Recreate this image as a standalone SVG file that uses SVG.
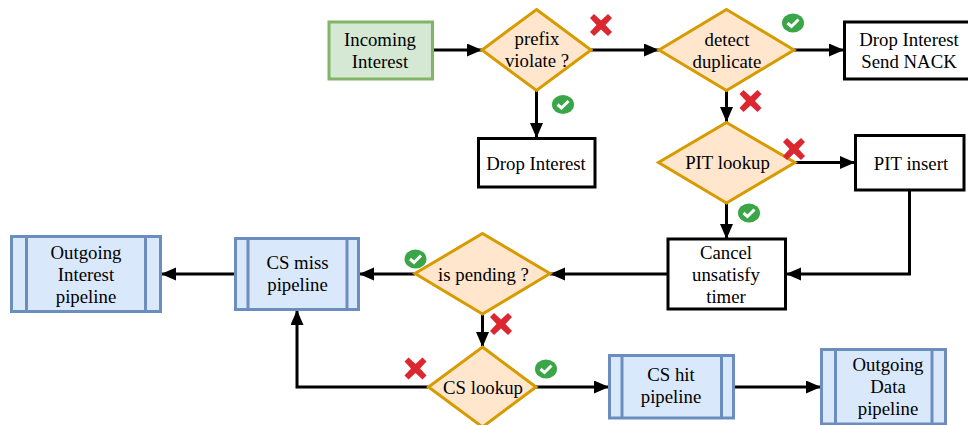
<svg xmlns="http://www.w3.org/2000/svg" width="968" height="425" viewBox="0 0 968 425">
<style>
text{font-family:"Liberation Serif","Times New Roman",serif;font-size:18.8px;fill:#000;text-anchor:middle}
.start{fill:#d5e8d4;stroke:#82b366;stroke-width:3}
.dec{fill:#ffe6cc;stroke:#d79b00;stroke-width:3}
.act{fill:#fff;stroke:#000;stroke-width:3}
.pipe{fill:#dae8fc;stroke:#6c8ebf;stroke-width:3}
.conn{fill:none;stroke:#000;stroke-width:3;marker-end:url(#arrow)}
.ok{fill:#3aa648}
.okm{fill:none;stroke:#fff;stroke-width:3}
.no{fill:#dc2630}
</style>
<defs>
<marker id="arrow" markerUnits="userSpaceOnUse" markerWidth="16" markerHeight="14" refX="15" refY="6.5" orient="auto"><path d="M0 0L15 6.500L0 13z" fill="#000"/></marker>
<g id="check"><ellipse class="ok" rx="11" ry="9.500"/><path class="okm" d="M-5.500 0L-1.500 3.500L5.500 -3.500"/></g>
<g id="cross"><path class="no" d="M-7 -11L0 -4.500L7 -11L11 -7L4.500 0L11 7L7 11L0 4.500L-7 11L-11 7L-4.500 0L-11 -7z"/></g>
</defs>
<rect width="968" height="425" fill="#fff"/>
<g id="connectors">
<path class="conn" d="M432 50H482"/>
<path class="conn" d="M591 50H659"/>
<path class="conn" d="M536.500 90V138"/>
<path class="conn" d="M794 50H844"/>
<path class="conn" d="M726.500 90V122"/>
<path class="conn" d="M795 162.500H855"/>
<path class="conn" d="M726.500 203V239"/>
<path class="conn" d="M909.500 190V274H786"/>
<path class="conn" d="M668 274H550"/>
<path class="conn" d="M415 274H359"/>
<path class="conn" d="M234 274H161"/>
<path class="conn" d="M482.500 314V347"/>
<path class="conn" d="M428 387H297V310"/>
<path class="conn" d="M536 387H609"/>
<path class="conn" d="M734 387H821"/>
</g>
<g id="incoming"><rect class="start" x="329" y="22" width="103.500" height="57"/><text x="380" y="46">Incoming</text><text x="380" y="68">Interest</text></g>
<g id="prefix"><path class="dec" d="M536.500 9.500L591 50L536.500 90.500L482 50z"/><text x="537" y="45">prefix</text><text x="537" y="67">violate ?</text></g>
<g id="drop"><rect class="act" x="478.500" y="138.500" width="116.500" height="48.500"/><text x="536" y="170">Drop Interest</text></g>
<g id="detect"><path class="dec" d="M726.500 9.500L794 50L726.500 90.500L659 50z"/><text x="727" y="46">detect</text><text x="727" y="68">duplicate</text></g>
<g id="nack"><rect class="act" x="844.500" y="22" width="130" height="57"/><text x="909" y="46">Drop Interest</text><text x="909" y="68">Send NACK</text></g>
<g id="pit"><path class="dec" d="M726.500 122.500L795 162.500L726.500 203L658.500 162.500z"/><text x="727.500" y="169">PIT lookup</text></g>
<g id="pitinsert"><rect class="act" x="855.500" y="135.500" width="108.500" height="54.500"/><text x="911" y="170">PIT insert</text></g>
<g id="cancel"><rect class="act" x="668" y="239" width="117.500" height="70"/><text x="726" y="259">Cancel</text><text x="726" y="281">unsatisfy</text><text x="726" y="303">timer</text></g>
<g id="pending"><path class="dec" d="M482.500 233.500L550 273.500L482.500 314L415 273.500z"/><text x="483.500" y="281">is pending ?</text></g>
<g id="cslookup"><path class="dec" d="M482.500 347L536 387L482.500 427L428.500 387z"/><text x="483" y="394">CS lookup</text></g>
<g id="csmiss"><rect class="pipe" x="235.500" y="238.500" width="123" height="71"/><path class="pipe" d="M248 238.500V309.500M347 238.500V309.500"/><text x="297.500" y="269">CS miss</text><text x="297.500" y="291">pipeline</text></g>
<g id="outinterest"><rect class="pipe" x="11.500" y="236.500" width="149" height="75"/><path class="pipe" d="M26.500 236.500V311.500M145.500 236.500V311.500"/><text x="86" y="259">Outgoing</text><text x="86" y="281">Interest</text><text x="86" y="303">pipeline</text></g>
<g id="cshit"><rect class="pipe" x="609.500" y="355.500" width="124" height="62.500"/><path class="pipe" d="M622 355.500V418M721.500 355.500V418"/><text x="671" y="381">CS hit</text><text x="671" y="403">pipeline</text></g>
<g id="outdata"><rect class="pipe" x="821.500" y="349.500" width="124" height="74.500"/><path class="pipe" d="M835.500 349.500V424M932 349.500V424"/><text x="888" y="371">Outgoing</text><text x="888" y="393">Data</text><text x="888" y="415">pipeline</text></g>
<g id="marks">
<use href="#cross" x="601" y="25"/>
<use href="#check" x="563" y="104.500"/>
<use href="#check" x="793" y="23"/>
<use href="#cross" x="750.500" y="101"/>
<use href="#cross" x="794" y="149"/>
<use href="#check" x="749" y="213"/>
<use href="#check" x="415.500" y="259"/>
<use href="#cross" x="501" y="324"/>
<use href="#cross" x="415.500" y="368.500"/>
<use href="#check" x="546" y="369"/>
</g>
</svg>
